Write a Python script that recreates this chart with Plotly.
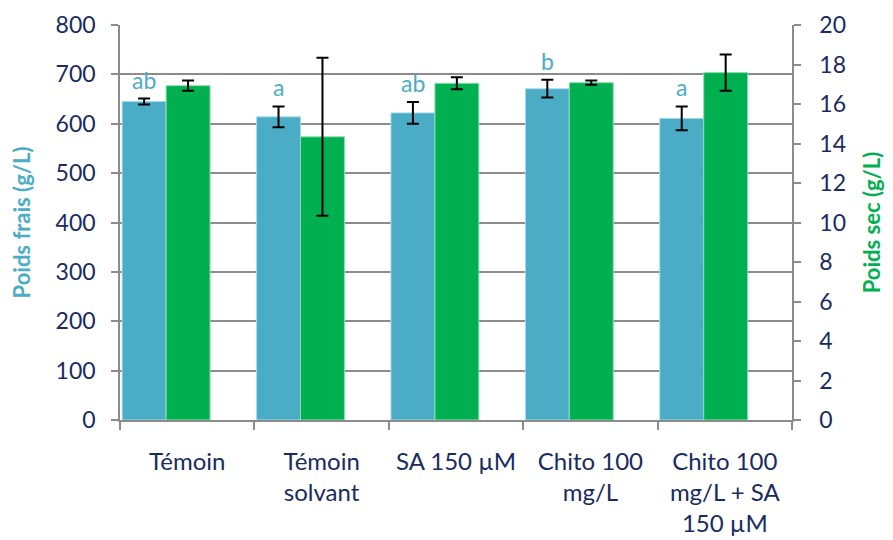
import plotly.graph_objects as go

categories = ["Témoin", "Témoin<br>solvant", "SA 150 µM", "Chito 100<br>mg/L", "Chito 100<br>mg/L + SA<br>150 µM"]
poids_frais = [645, 614, 622, 671, 611]
poids_frais_err = [6, 21, 22, 18, 24]
poids_sec = [16.93, 14.34, 17.05, 17.08, 17.59]
poids_sec_err = [0.26, 4.0, 0.3, 0.11, 0.92]
letters = ["ab", "a", "ab", "b", "a"]
left_ticks = [0, 100, 200, 300, 400, 500, 600, 700, 800]
right_ticks = [0, 2, 4, 6, 8, 10, 12, 14, 16, 18, 20]

BLUE = "#4BACC6"
GREEN = "#00B050"
NAVY = "#1A2B5F"
GRID = "#8C8C8C"
FONT = "Lato"

fig = go.Figure()
fig.add_trace(go.Bar(
    x=categories, y=poids_frais, name="Poids frais",
    marker=dict(color=BLUE, line=dict(color="#A9DCE8", width=1)),
    offset=-0.484, width=0.327,
    error_y=dict(type="data", array=poids_frais_err, color="black", thickness=2, width=6),
    yaxis="y",
))
fig.add_trace(go.Bar(
    x=categories, y=poids_sec, name="Poids sec",
    marker=dict(color=GREEN, line=dict(color="#8FDDB0", width=1)),
    offset=-0.157, width=0.327,
    error_y=dict(type="data", array=poids_sec_err, color="black", thickness=2, width=6),
    yaxis="y2",
))

for c, v, e, t in zip(categories, poids_frais, poids_frais_err, letters):
    fig.add_annotation(x=c, y=v + e, text=t, xref="x", yref="y", showarrow=False,
                       yanchor="bottom", xshift=-43, yshift=3,
                       font=dict(family=FONT, size=23, color=BLUE))

fig.update_layout(
    width=893, height=540,
    margin=dict(l=112, r=109, t=17, b=128, autoexpand=False),
    paper_bgcolor="white", plot_bgcolor="white",
    showlegend=False,
    font=dict(family=FONT, size=22, color=NAVY),
    xaxis=dict(
        type="category", range=[-0.5, 4.5], automargin=False,
        showline=True, linecolor=GRID, linewidth=1.5,
        ticks="outside", tickson="boundaries", ticklen=8, tickcolor=GRID, tickwidth=1.5,
        tickfont=dict(family=FONT, size=24, color=NAVY),
        tickangle=0,
        ticklabelstandoff=19,
        showgrid=False,
    ),
    yaxis=dict(
        range=[0, 800], tickvals=left_ticks, automargin=False,
        showline=True, linecolor=GRID, linewidth=1.5,
        ticks="outside", ticklen=7, tickcolor=GRID, tickwidth=1.5,
        showgrid=True, gridcolor=GRID, gridwidth=1.5,
        zeroline=False,
        tickfont=dict(family=FONT, size=23, color=NAVY),
        ticklabelstandoff=11,
        title=dict(text="<b>Poids frais (g/L)</b>", font=dict(family=FONT, size=22, color=BLUE), standoff=20),
    ),
    yaxis2=dict(
        range=[0, 20], tickvals=right_ticks, overlaying="y", side="right", automargin=False,
        showline=True, linecolor=GRID, linewidth=1.5,
        ticks="outside", ticklen=7, tickcolor=GRID, tickwidth=1.5,
        showgrid=False, zeroline=False,
        tickfont=dict(family=FONT, size=23, color=NAVY),
        ticklabelstandoff=14,
        title=dict(text="<b>Poids sec (g/L)</b>", font=dict(family=FONT, size=22, color=GREEN), standoff=20),
    ),
)

fig.write_html("out.html")
